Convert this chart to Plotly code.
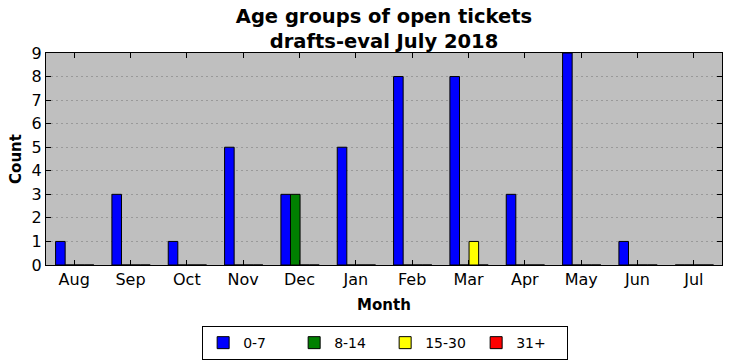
import plotly.graph_objects as go

months = ["Aug", "Sep", "Oct", "Nov", "Dec", "Jan", "Feb", "Mar", "Apr", "May", "Jun", "Jul"]
age_0_7 = [1, 3, 1, 5, 3, 5, 8, 8, 3, 9, 1, 0]
age_8_14 = [0, 0, 0, 0, 3, 0, 0, 0, 0, 0, 0, 0]
age_15_30 = [0, 0, 0, 0, 0, 0, 0, 1, 0, 0, 0, 0]
age_31_plus = [0, 0, 0, 0, 0, 0, 0, 0, 0, 0, 0, 0]

series = [
    ("0-7", age_0_7, "#0000ff", -0.33),
    ("8-14", age_8_14, "#008000", -0.16),
    ("15-30", age_15_30, "#ffff00", 0.01),
    ("31+", age_31_plus, "#ff0000", 0.18),
]

FONT = "DejaVu Sans"
fig = go.Figure()
for name, vals, color, off in series:
    fig.add_trace(go.Bar(
        x=months, y=vals, name=name,
        marker=dict(color=color, line=dict(color="black", width=1)),
        width=0.17, offset=off,
    ))

fig.update_layout(
    width=732, height=361,
    margin=dict(l=46, r=10, t=53, b=96, autoexpand=False),
    paper_bgcolor="white", plot_bgcolor="#bfbfbf",
    barmode="overlay",
    font=dict(family=FONT, color="black", size=15),
    title=dict(
        text="<b>Age groups of open tickets<br>drafts-eval July 2018</b>",
        x=0.5, xanchor="center", xref="paper",
        y=0.936, yref="container", yanchor="middle",
        font=dict(family=FONT, size=19.5, color="black"),
    ),
    showlegend=True,
    legend=dict(
        orientation="h", x=0.231, xanchor="left", y=-0.288, yanchor="top",
        bordercolor="black", borderwidth=1, bgcolor="white",
        font=dict(family=FONT, size=14),
        entrywidth=46, entrywidthmode="pixels",
        traceorder="normal",
    ),
)
fig.update_xaxes(
    type="category", range=[-0.5, 11.5],
    showline=True, linecolor="black", linewidth=1, mirror="ticks",
    ticks="inside", ticklen=5, tickcolor="black",
    showgrid=False, zeroline=False,
    tickfont=dict(family=FONT, size=16),
    title=dict(text="<b>Month</b>", font=dict(family=FONT, size=15), standoff=11),
)
fig.update_yaxes(
    range=[0, 9], dtick=1,
    showline=True, linecolor="black", linewidth=1, mirror="ticks",
    ticks="inside", ticklen=5, tickcolor="black",
    showgrid=True, gridcolor="#999999", griddash="2px,3px", gridwidth=1,
    zeroline=False,
    tickfont=dict(family=FONT, size=16),
    title=dict(text="<b>Count</b>", font=dict(family=FONT, size=15), standoff=6),
)

fig.write_html("out.html", config={"displayModeBar": False},
               post_script="document.body.style.margin='0px';")
